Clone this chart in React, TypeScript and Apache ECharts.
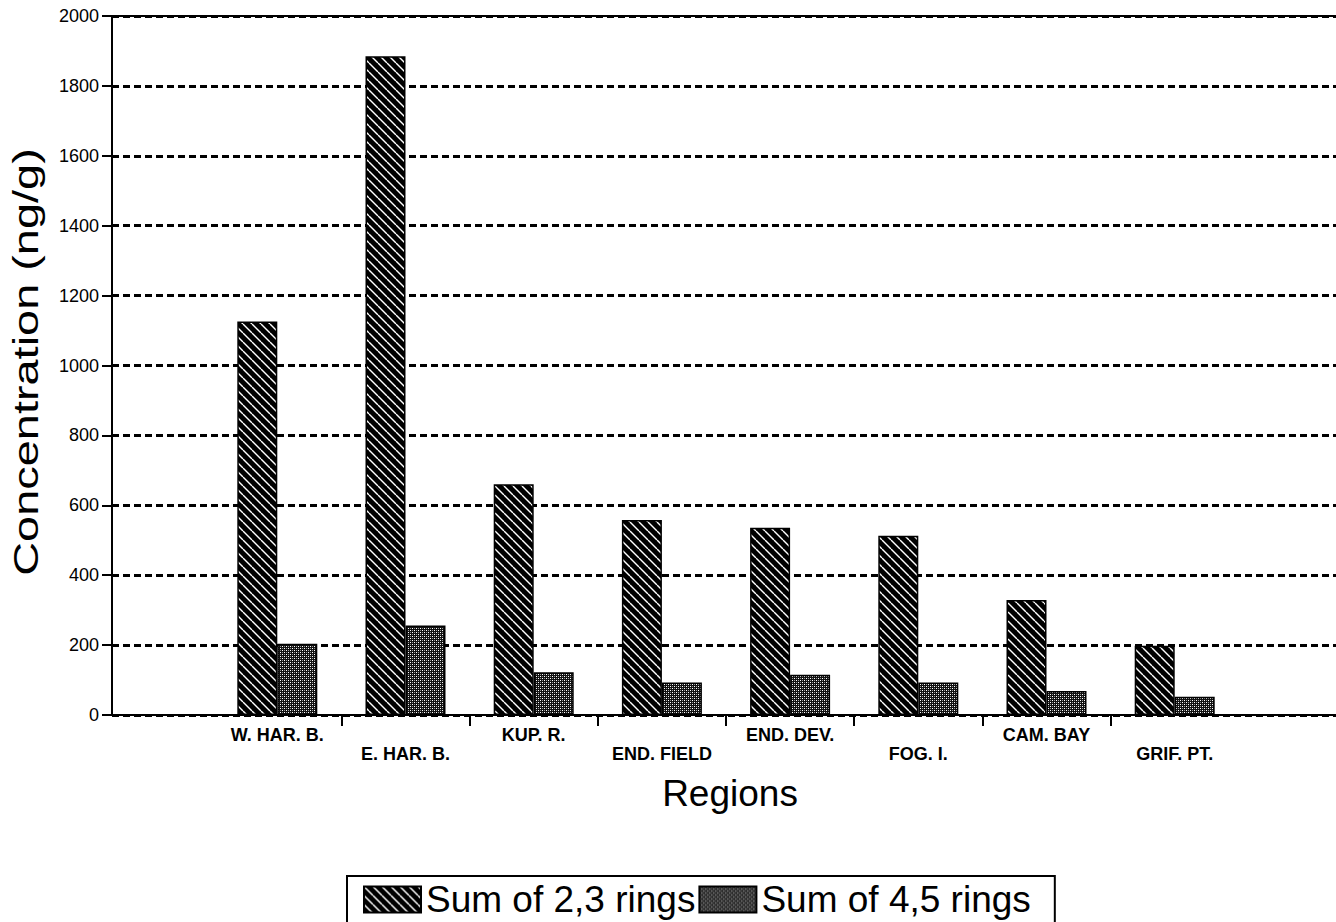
import React, { useEffect, useRef } from "react";
import * as echarts from "echarts";

const categories = ["W. HAR. B.", "E. HAR. B.", "KUP. R.", "END. FIELD", "END. DEV.", "FOG. I.", "CAM. BAY", "GRIF. PT."];
const sum23 = [1126, 1885, 660, 558, 536, 513, 329, 198];
const sum45 = [204, 256, 122, 93, 115, 93, 69, 52];
const seriesNames = ["Sum of 2,3 rings", "Sum of 4,5 rings"];
const yTitle = "Concentration (ng/g)";
const xTitle = "Regions";
const yMin = 0;
const yMax = 2000;
const yStep = 200;

const FONT = "'Liberation Sans', Arial, Helvetica, sans-serif";

function makeHatch() {
  const s = 9;
  const c = document.createElement("canvas");
  c.width = s;
  c.height = s;
  const ctx = c.getContext("2d")!;
  ctx.fillStyle = "#000";
  ctx.fillRect(0, 0, s, s);
  ctx.strokeStyle = "#fff";
  ctx.lineWidth = 1.4;
  for (const k of [-s, 0, s]) {
    ctx.beginPath();
    ctx.moveTo(k, 0);
    ctx.lineTo(k + s, s);
    ctx.stroke();
  }
  return { image: c.toDataURL(), repeat: "repeat", imageWidth: s, imageHeight: s };
}

function makeDots() {
  const s = 4;
  const c = document.createElement("canvas");
  c.width = s;
  c.height = s;
  const ctx = c.getContext("2d")!;
  ctx.fillStyle = "#111";
  ctx.fillRect(0, 0, s, s);
  ctx.fillStyle = "#fff";
  ctx.fillRect(0, 0, 1, 1);
  ctx.fillRect(2, 2, 1, 1);
  ctx.fillStyle = "#999";
  ctx.fillRect(2, 0, 1, 1);
  ctx.fillRect(0, 2, 1, 1);
  return { image: c.toDataURL(), repeat: "repeat", imageWidth: s, imageHeight: s };
}

export default function App() {
  const ref = useRef<HTMLDivElement>(null);
  useEffect(() => {
    document.documentElement.style.overflow = "hidden";
    document.body.style.overflow = "hidden";
    if (!ref.current) return;
    const chart = echarts.init(ref.current, null, { renderer: "svg" });
    const padded = ["", ...categories, ""];
    const pad = (a: number[]) => ["-", ...a, "-"];
    const hatch = makeHatch();
    const dots = makeDots();
    const option: any = {
      animation: false,
      backgroundColor: "#fff",
      textStyle: { fontFamily: FONT, color: "#000" },
      grid: [
        { left: 112, top: 16, width: 1236, height: 699, containLabel: false },
        { left: 85, top: 16, width: 1282, height: 699, containLabel: false },
      ],
      graphic: [
        {
          type: "text",
          x: 26,
          y: 362,
          rotation: Math.PI / 2,
          scaleX: 1.34,
          style: {
            text: yTitle,
            font: "35px " + FONT,
            fill: "#000",
            textAlign: "center",
            textVerticalAlign: "middle",
          },
        },
      ],
      legend: {
        left: 347,
        top: 876,
        orient: "horizontal",
        icon: "rect",
        itemWidth: 57,
        itemHeight: 26,
        itemGap: 3,
        padding: [5, 24, 5, 16],
        borderColor: "#000",
        borderWidth: 2,
        data: seriesNames,
        textStyle: { fontSize: 37, color: "#000", fontFamily: FONT, lineHeight: 34 },
      },
      xAxis: [
        {
          gridIndex: 0,
          type: "value",
          min: 0,
          max: 1,
          position: "bottom",
          axisLine: { show: true, onZero: false, lineStyle: { color: "#000", width: 2 } },
          axisTick: { show: false },
          axisLabel: { show: false },
          splitLine: { show: false },
          name: xTitle,
          nameLocation: "middle",
          nameGap: 60,
          nameTextStyle: { fontSize: 37, color: "#000", fontFamily: FONT },
        },
        {
          gridIndex: 0,
          type: "value",
          min: 0,
          max: 1,
          position: "top",
          axisLine: { show: true, onZero: false, lineStyle: { color: "#000", width: 2 } },
          axisTick: { show: false },
          axisLabel: { show: false },
          splitLine: { show: false },
        },
        {
          gridIndex: 1,
          type: "category",
          data: padded,
          boundaryGap: true,
          position: "bottom",
          axisLine: { show: false },
          axisTick: {
            show: true,
            length: 11,
            interval: (i: number) => i >= 2 && i <= padded.length - 2,
            lineStyle: { color: "#000", width: 2 },
          },
          axisLabel: {
            interval: 0,
            color: "#000",
            fontFamily: FONT,
            fontSize: 18,
            fontWeight: "bold",
            lineHeight: 19,
            margin: 10,
            formatter: (v: string, i: number) => (i % 2 === 0 ? "\n" + v : v),
          },
          splitLine: { show: false },
        },
      ],
      yAxis: [
        {
          gridIndex: 0,
          type: "value",
          min: yMin,
          max: yMax,
          interval: yStep,
          axisLine: { show: true, lineStyle: { color: "#000", width: 2 } },
          axisTick: { show: true, length: 10, lineStyle: { color: "#000", width: 2 } },
          axisLabel: {
            color: "#000",
            fontSize: 18,
            margin: 13,
            fontFamily: FONT,
            formatter: (v: number) => String(v),
          },
          splitLine: { show: true, lineStyle: { color: "#000", width: 3, type: [7, 4] } },
        },
        {
          gridIndex: 1,
          type: "value",
          min: yMin,
          max: yMax,
          interval: yStep,
          show: false,
        },
      ],
      series: [
        {
          type: "bar",
          name: seriesNames[0],
          xAxisIndex: 2,
          yAxisIndex: 1,
          data: pad(sum23),
          barWidth: 40,
          barGap: "0%",
          itemStyle: { color: hatch, borderColor: "#000", borderWidth: 1.5 },
        },
        {
          type: "bar",
          name: seriesNames[1],
          xAxisIndex: 2,
          yAxisIndex: 1,
          data: pad(sum45),
          barWidth: 40,
          barGap: "0%",
          itemStyle: { color: dots, borderColor: "#000", borderWidth: 1.5 },
        },
      ],
    };
    chart.setOption(option);
    return () => chart.dispose();
  }, []);
  return (
    <div
      ref={ref}
      style={{ position: "fixed", left: 0, top: 0, width: 1400, height: 922, background: "#fff" }}
    />
  );
}
